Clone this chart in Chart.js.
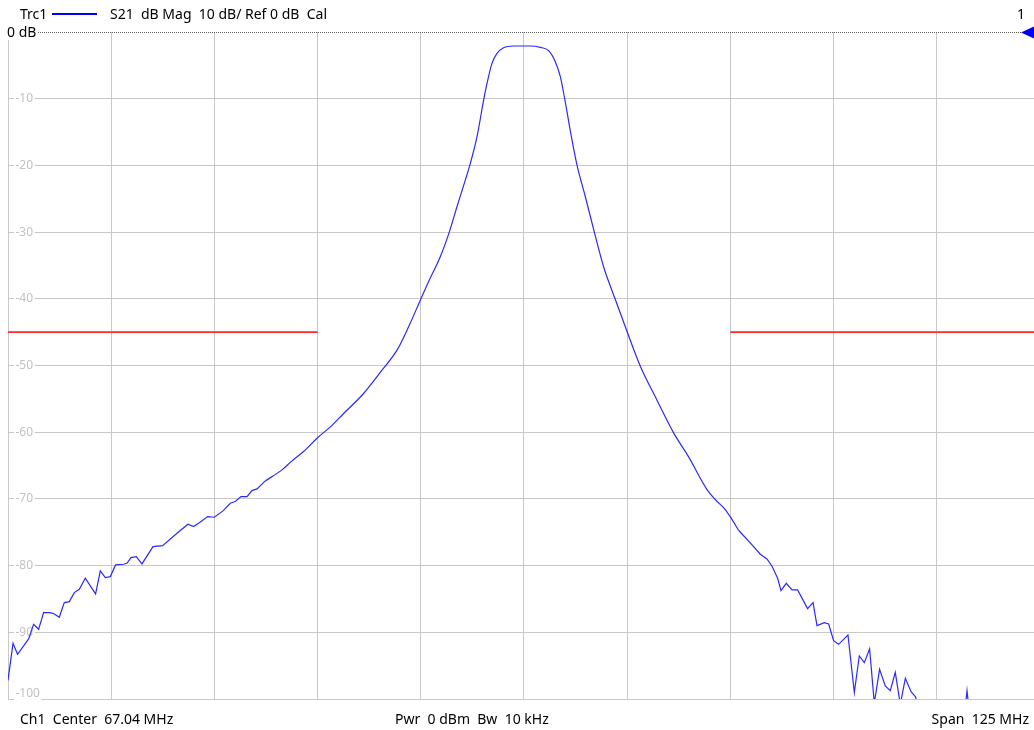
<!DOCTYPE html>
<html><head><meta charset="utf-8">
<script src="https://cdn.jsdelivr.net/npm/chart.js@4.4.0/dist/chart.umd.min.js"></script>
<style>
html,body{margin:0;padding:0;width:1034px;height:730px;overflow:hidden;background:#fff;}
#wrap{position:absolute;left:0;top:0;width:1042px;height:730px;}
.t{position:absolute;font-family:"Segoe UI","Noto Sans",sans-serif;font-size:14px;color:#000;white-space:pre;line-height:16px;}
</style></head><body>
<div id="wrap"><canvas id="c" width="1042" height="730"></canvas></div>
<div class="t" style="left:20px;top:6px">Trc1</div>
<div style="position:absolute;left:52px;top:13px;width:45px;height:2px;background:#0000ff"></div>
<div class="t" style="left:110px;top:6px">S21  dB Mag  10 dB/ Ref 0 dB  Cal</div>
<div class="t" style="left:1017px;top:6px">1</div>
<div class="t" style="left:7px;top:24px;background:#fff;padding-right:1px">0 dB</div>
<div class="t" style="left:20px;top:711px">Ch1  Center  67.04 MHz</div>
<div class="t" style="left:395px;top:711px">Pwr  0 dBm  Bw  10 kHz</div>
<div class="t" style="right:5px;top:711px">Span  125 MHz</div>
<script>
const centerMHz = 67.04;
const spanMHz = 125;
const refDb = 0;
const yTicks = [0, -10, -20, -30, -40, -50, -60, -70, -80, -90, -100];

const freqMHz = [
  4.54, 5.15, 5.70, 7.04, 7.64, 8.25, 8.85, 9.66, 10.15, 10.75,
  11.36, 11.97, 12.57, 13.18, 13.90, 15.15, 15.72, 16.33, 16.93, 17.57,
  18.54, 18.95, 19.44, 20.08, 20.77, 22.10, 23.27, 25.01, 26.34, 27.02,
  27.75, 28.72, 29.53, 30.58, 31.47, 32.07, 32.76, 33.49, 34.09, 34.70,
  35.71, 37.73, 38.94, 40.34, 41.97, 43.58, 45.19, 47.61, 49.84, 51.66,
  53.06, 54.52, 55.49, 56.90, 57.99, 58.92, 59.93, 60.54, 61.35, 62.15,
  62.56, 63.16, 63.77, 64.57, 65.78, 67.80, 69.01, 70.02, 70.83, 71.44,
  71.96, 72.65, 73.46, 74.47, 75.56, 76.68, 78.10, 79.52, 81.13, 83.15,
  85.16, 86.98, 89.21, 90.21, 91.42, 92.03, 93.03, 94.66, 95.66, 96.47,
  97.08, 97.76, 98.17, 98.81, 99.50, 100.18, 101.39, 102.05, 102.53, 103.41,
  103.94, 104.54, 105.15, 106.28, 107.05, 107.65, 108.26, 108.90, 109.47, 110.11,
  110.80, 111.41, 112.01, 112.62, 113.23, 113.92, 114.44, 115.04, 116.25, 117.47,
  118.68, 120.08, 120.70, 121.32, 122.92, 124.73, 127.15, 129.54
];
const s21dB = [
  -97.2, -91.65, -93.3, -91.0, -88.8, -89.55, -87.05, -87.05, -87.25, -87.75,
  -85.55, -85.4, -84.05, -83.55, -81.9, -84.25, -80.8, -81.8, -81.65, -79.9,
  -79.8, -79.65, -78.8, -78.65, -79.75, -77.15, -77.0, -75.15, -73.8, -74.15,
  -73.55, -72.65, -72.75, -71.8, -70.65, -70.4, -69.65, -69.65, -68.75, -68.5,
  -67.3, -65.65, -64.3, -62.9, -60.9, -59.2, -57.2, -54.2, -50.7, -47.7,
  -44.2, -40.1, -37.4, -33.7, -30.0, -26.2, -22.2, -19.7, -15.7, -10.2,
  -7.7, -4.7, -3.2, -2.35, -2.1, -2.1, -2.3, -2.8, -4.45, -6.7,
  -9.95, -14.8, -19.95, -24.7, -30.0, -35.2, -40.1, -44.9, -50.1, -55.2,
  -60.1, -63.7, -68.6, -70.1, -71.6, -72.7, -74.7, -76.9, -78.3, -79.0,
  -80.1, -81.9, -83.75, -82.65, -83.65, -83.65, -86.45, -85.55, -89.0, -88.55,
  -88.75, -91.25, -91.8, -90.4, -99.05, -93.55, -94.55, -92.5, -100.6, -95.55,
  -98.05, -98.75, -96.0, -100.8, -96.9, -98.9, -99.65, -102, -104, -103,
  -105, -106, -98.75, -106, -104, -105, -104, -105
];

// the smooth passband section (index range) is drawn with monotone curves,
// the noisy skirts with straight segments
const smoothFromIdx = 40;
const smoothToIdx = 86;

const limitDb = -45;
const limitLeftMHz = [4.54, 42.04];
const limitRightMHz = [92.04, 129.54];

const xMin = centerMHz - spanMHz / 2;
const xMax = centerMHz + spanMHz / 2;

const pts = freqMHz.map((f, i) => ({x: f, y: s21dB[i]}));
const traceColor = '#2a2aff';

const decor = {
  id: 'vnaDecor',
  beforeDatasetsDraw(chart) {
    const {ctx, chartArea, scales: {y}} = chart;
    ctx.save();
    ctx.font = '12px "Segoe UI", "Noto Sans", sans-serif';
    ctx.textBaseline = 'middle';
    yTicks.forEach(v => {
      if (v === refDb) return;
      let py = y.getPixelForValue(v);
      if (py > chartArea.bottom - 5) py = chartArea.bottom - 5;
      const label = String(v);
      const w = ctx.measureText(label).width;
      ctx.fillStyle = '#ffffff';
      ctx.fillRect(14, Math.round(y.getPixelForValue(v)) - 1, w + 3, 3);
      ctx.fillStyle = '#c2c2c2';
      ctx.fillText(label, 15.5, py);
    });
    ctx.restore();
  },
  afterDatasetsDraw(chart) {
    const {ctx, chartArea, scales: {y}} = chart;
    const py = Math.round(y.getPixelForValue(refDb)) + 0.5;
    ctx.save();
    ctx.strokeStyle = '#5a5a5a';
    ctx.lineWidth = 1;
    ctx.setLineDash([1, 1]);
    ctx.beginPath();
    ctx.moveTo(chartArea.left, py);
    ctx.lineTo(1021, py);
    ctx.stroke();
    ctx.setLineDash([]);
    ctx.fillStyle = '#0000ff';
    ctx.beginPath();
    ctx.moveTo(1021, py);
    ctx.lineTo(1035, py - 6.5);
    ctx.lineTo(1035, py + 6.5);
    ctx.closePath();
    ctx.fill();
    ctx.restore();
  }
};

new Chart(document.getElementById('c'), {
  type: 'line',
  data: {
    datasets: [
      {
        data: pts.slice(0, smoothFromIdx + 1),
        borderColor: traceColor, borderWidth: 1.2, pointRadius: 0, tension: 0
      },
      {
        data: pts.slice(smoothFromIdx, smoothToIdx + 1),
        borderColor: traceColor, borderWidth: 1.2, pointRadius: 0,
        cubicInterpolationMode: 'monotone'
      },
      {
        data: pts.slice(smoothToIdx),
        borderColor: traceColor, borderWidth: 1.2, pointRadius: 0, tension: 0
      },
      {
        data: limitLeftMHz.map(f => ({x: f, y: limitDb})),
        borderColor: '#ff2a2a', borderWidth: 1.6, pointRadius: 0
      },
      {
        data: limitRightMHz.map(f => ({x: f, y: limitDb})),
        borderColor: '#ff2a2a', borderWidth: 1.6, pointRadius: 0
      }
    ]
  },
  options: {
    responsive: false,
    animation: false,
    events: [],
    layout: {padding: {left: 8, right: 2, top: 32, bottom: 31}},
    plugins: {legend: {display: false}, tooltip: {enabled: false}, title: {display: false}},
    scales: {
      x: {
        type: 'linear',
        min: xMin,
        max: xMax,
        afterBuildTicks: s => { s.ticks = Array.from({length: 11}, (_, i) => ({value: xMin + i * spanMHz / 10})); },
        ticks: {display: false},
        grid: {color: '#c8c8c8', lineWidth: 1, drawTicks: false},
        border: {display: false}
      },
      y: {
        type: 'linear',
        min: -100,
        max: 0,
        afterBuildTicks: s => { s.ticks = yTicks.map(v => ({value: v})); },
        ticks: {display: false},
        grid: {color: c => (c.tick && c.tick.value === refDb) ? 'rgba(0,0,0,0)' : '#c8c8c8', lineWidth: 1, drawTicks: false},
        border: {display: false}
      }
    }
  },
  plugins: [decor]
});
</script>
</body></html>
